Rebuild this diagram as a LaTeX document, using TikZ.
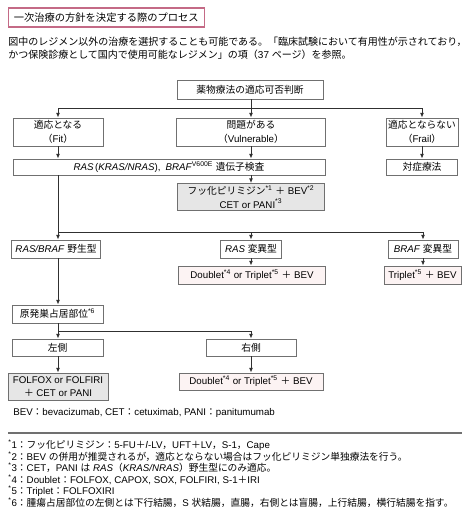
\documentclass[tikz,border=0pt]{standalone}
\usepackage{fontspec}
\setmainfont{Liberation Sans}
\newfontfamily\jpfam{Noto Sans CJK JP}
\usepackage{xcolor}
\usetikzlibrary{arrows.meta,positioning}
% Japanese characters switch to the CJK family, Latin ones back to the main font
\newXeTeXintercharclass\cjkclass
\count255="3000
\loop\XeTeXcharclass\count255=\cjkclass\advance\count255 1 \ifnum\count255<"3100 \repeat
\count255="4E00
\loop\XeTeXcharclass\count255=\cjkclass\advance\count255 1 \ifnum\count255<"A000 \repeat
\count255="FF00
\loop\XeTeXcharclass\count255=\cjkclass\advance\count255 1 \ifnum\count255<"FFF0 \repeat
\XeTeXinterchartoks 0 \cjkclass = {\jpfam}
\XeTeXinterchartoks 4095 \cjkclass = {\jpfam}
\XeTeXinterchartoks \cjkclass 0 = {\rmfamily}
\XeTeXinterchartoks \cjkclass 4095 = {\rmfamily}
\XeTeXinterchartokenstate=1
\definecolor{boxline}{HTML}{707070}
\definecolor{arrline}{HTML}{303030}
\definecolor{titlepink}{HTML}{C46A86}
\definecolor{grayfill}{HTML}{E6E6E6}
\definecolor{pinkfill}{HTML}{FCF3F3}
\newcommand{\gn}[1]{\textit{#1}}
\newcommand{\fn}[1]{\textsuperscript{*#1}}

\begin{document}
\begin{tikzpicture}[x=0.75pt,y=-0.75pt,
    every node/.style={inner sep=0pt,font=\fontsize{7.3}{10}\selectfont},
    wd/.style={minimum width=#1*0.75pt},
    ht/.style={minimum height=#1*0.75pt},
    box/.style={draw=boxline,line width=0.6pt,fill=white,align=center,ht=18},
    graybox/.style={box,fill=grayfill},
    pinkbox/.style={box,fill=pinkfill},
    arr/.style={draw=arrline,line width=0.7pt,-{Latex[length=3.5pt,width=3pt]}},
    lin/.style={draw=arrline,line width=0.7pt},
    note/.style={anchor=west,align=left,font=\fontsize{7.3}{8.7}\selectfont}]
  \useasboundingbox (0,0) rectangle (474,524);
  % heading
  \node[draw=titlepink,line width=0.8pt,anchor=west,wd=196,ht=19,inner xsep=4pt,align=left,
        text width=139pt,font=\fontsize{7.7}{10}\selectfont] (title) at (8,17.5) {一次治療の方針を決定する際のプロセス};
  \node[anchor=west,align=left,font=\fontsize{7.5}{9.6}\selectfont] (intro) at (8,48.5)
    {図中のレジメン以外の治療を選択することも可能である。「臨床試験において有用性が示されており，\\
     かつ保険診療として国内で使用可能なレジメン」の項（37 ページ）を参照。};
  % flow
  \node[box,wd=146,ht=19] (judge) at (250,89.5) {薬物療法の適応可否判断};
  \node[box,wd=90,ht=28] (fit) at (58,132) {適応となる\\（Fit）};
  \node[box,wd=149,ht=28] (vul) at (251,132) {問題がある\\（Vulnerable）};
  \node[box,wd=72,ht=28] (frail) at (422,132) {適応とならない\\（Frail）};
  \node[box,wd=312,ht=16] (gene) at (169,167) {\gn{RAS}\,(\gn{KRAS/NRAS}),\enspace\gn{BRAF}\textsuperscript{V600E} 遺伝子検査};
  \node[box,wd=71,ht=16] (sympt) at (422,167) {対症療法};
  \node[graybox,wd=147,ht=27] (fluoro) at (251,197) {フッ化ピリミジン\fn{1} ＋ BEV\fn{2}\\CET or PANI\fn{3}};
  \node[box,wd=89] (wild) at (56,249) {\gn{RAS/BRAF} 野生型};
  \node[box,wd=61] (rasmut) at (251,249) {\gn{RAS} 変異型};
  \node[box,wd=70] (brafmut) at (423,249) {\gn{BRAF} 変異型};
  \node[pinkbox,wd=147] (dbla) at (252,275) {Doublet\fn{4} or Triplet\fn{5} ＋ BEV};
  \node[pinkbox,wd=77] (trip) at (422.5,275) {Triplet\fn{5} ＋ BEV};
  \node[box,wd=91] (prim) at (57.5,314) {原発巣占居部位\fn{6}};
  \node[box,wd=91,ht=17] (left) at (57.5,347.5) {左側};
  \node[box,wd=90,ht=17] (right) at (251,347.5) {右側};
  \node[graybox,wd=100,ht=27] (folfox) at (58,386.5) {FOLFOX or FOLFIRI\\＋ CET or PANI};
  \node[pinkbox,wd=144,ht=17] (dblb) at (251,381.5) {Doublet\fn{4} or Triplet\fn{5} ＋ BEV};
  % branch points
  \coordinate (b1) at (251,108);
  \coordinate (b2) at (58,232);
  \coordinate (b3) at (58,331);
  \draw[lin] (judge.south -| b1) -- (b1);
  \draw[arr] (b1) -| (fit);
  \draw[arr] (b1) -- (vul);
  \draw[arr] (b1) -| (frail);
  \draw[arr] (fit) -- (fit |- gene.north);
  \draw[arr] (vul) -- (vul |- gene.north);
  \draw[arr] (frail) -- (sympt);
  \draw[arr] (gene.south -| vul) -- (fluoro);
  \draw[lin] (gene.south -| b2) -- (b2);
  \draw[arr] (b2) -- (b2 |- wild.north);
  \draw[arr] (b2) -| (rasmut);
  \draw[arr] (b2) -| (brafmut);
  \draw[arr] (rasmut) -- (rasmut |- dbla.north);
  \draw[arr] (brafmut) -- (brafmut |- trip.north);
  \draw[arr] (wild.south -| b2) -- (b2 |- prim.north);
  \draw[lin] (prim.south -| b3) -- (b3);
  \draw[arr] (b3) -- (b3 |- left.north);
  \draw[arr] (b3) -| (right);
  \draw[arr] (left.south -| folfox) -- (folfox);
  \draw[arr] (right) -- (right |- dblb.north);
  % abbreviations and notes
  \node[anchor=west,font=\fontsize{7.3}{9}\selectfont] (abbr) at (13,413) {BEV：bevacizumab, CET：cetuximab, PANI：panitumumab};
  \draw[draw=boxline,line width=1.5pt] (8,433) -- (462,433);
  \node[note,anchor=north west] (notes) at (8,439.5)
    {\textsuperscript{*}1：フッ化ピリミジン：5-FU＋\textit{l}-LV，UFT＋LV，S-1，Cape\\
     \textsuperscript{*}2：BEV の併用が推奨されるが，適応とならない場合はフッ化ピリミジン単独療法を行う。\\
     \textsuperscript{*}3：CET，PANI は \gn{RAS}（\gn{KRAS/NRAS}）野生型にのみ適応。\\
     \textsuperscript{*}4：Doublet：FOLFOX, CAPOX, SOX, FOLFIRI, S-1＋IRI\\
     \textsuperscript{*}5：Triplet：FOLFOXIRI\\
     \textsuperscript{*}6：腫瘍占居部位の左側とは下行結腸，S 状結腸，直腸，右側とは盲腸，上行結腸，横行結腸を指す。};
\end{tikzpicture}
\end{document}
